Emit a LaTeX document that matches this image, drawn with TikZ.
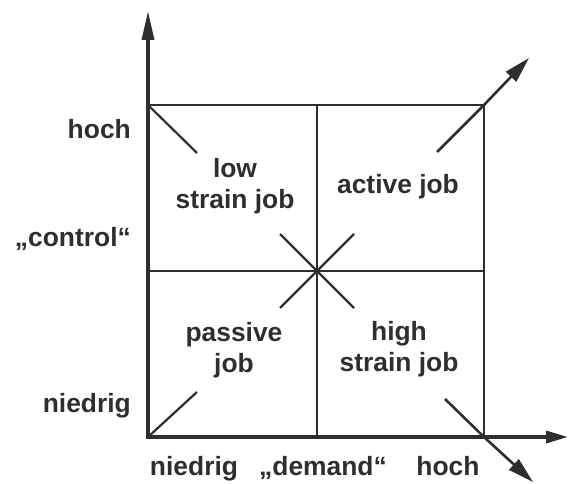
\documentclass[tikz,border=0pt]{standalone}
\usepackage{fontspec}
\setmainfont{Liberation Sans}
\usetikzlibrary{arrows.meta}
\definecolor{ink}{HTML}{2E2E2E}
\begin{document}
\begin{tikzpicture}[x=1pt,y=-1pt,
  axis/.style={draw=ink,line width=3.4pt,line join=miter},
  gridline/.style={draw=ink,line width=2pt},
  ray/.style={draw=ink,line width=2.2pt},
  outray/.style={draw=ink,line width=2.6pt,-{Triangle[length=26pt,width=14pt]}},
  lbl/.style={text=ink,font=\bfseries\fontsize{26.4}{31}\selectfont,inner sep=0pt},
  cell/.style={lbl,align=center}]
\useasboundingbox (0,0) rectangle (568,484);

% frame of the four-field scheme
\coordinate (O)  at (148,437);
\coordinate (TL) at (148,105);
\coordinate (TR) at (484,105);
\coordinate (BR) at (484,437);
\coordinate (M)  at (317,271);
\coordinate (Tm) at (317,105);
\coordinate (Bm) at (317,437);
\coordinate (Lm) at (148,271);
\coordinate (Rm) at (484,271);
\coordinate (yend) at (148,11);
\coordinate (xend) at (568,437);

% axes
\draw[axis,{Triangle[length=29pt,width=12pt]}-{Triangle[length=22pt,width=12pt]}]
  (yend) -- (O) -- (xend);

% grid
\draw[gridline] (TL) -- (TR) -- (BR);
\draw[gridline] (Tm) -- (Bm);
\draw[gridline] (Lm) -- (Rm);

% diagonal strokes
\coordinate (d1) at (197,153);
\coordinate (d2) at (197,392);
\draw[ray] (TL) -- (d1);
\draw[ray] (O) -- (d2);
\coordinate (x1) at (280,234);
\coordinate (x2) at (354,308);
\coordinate (x3) at (354,234);
\coordinate (x4) at (280,308);
\draw[ray] (x1) -- (x2);
\draw[ray] (x3) -- (x4);

% outgoing arrows
\coordinate (r1) at (437,152);
\coordinate (t1) at (529,58);
\coordinate (r2) at (445,399);
\coordinate (t2) at (533,482);
\draw[outray] (r1) -- (TR) -- (t1);
\draw[outray] (r2) -- (BR) -- (t2);

% axis labels
\node[lbl,anchor=base east] (yhi)  at (131,139) {hoch};
\node[lbl,anchor=base east] (ylab) at (131,247) {„control“};
\node[lbl,anchor=base east] (ylo)  at (131,412) {niedrig};
\node[lbl,anchor=base] (xlo)  at (194,475) {niedrig};
\node[lbl,anchor=base] (xlab) at (323,475) {„demand“};
\node[lbl,anchor=base] (xhi)  at (448,475) {hoch};

% field labels
\node[cell] (lowstrain)  at (235,186) {low\\strain job};
\node[cell] (active)     at (398,187) {active job};
\node[cell] (passive)    at (234,350) {passive\\job};
\node[cell] (highstrain) at (399,349) {high\\strain job};
\end{tikzpicture}
\end{document}
